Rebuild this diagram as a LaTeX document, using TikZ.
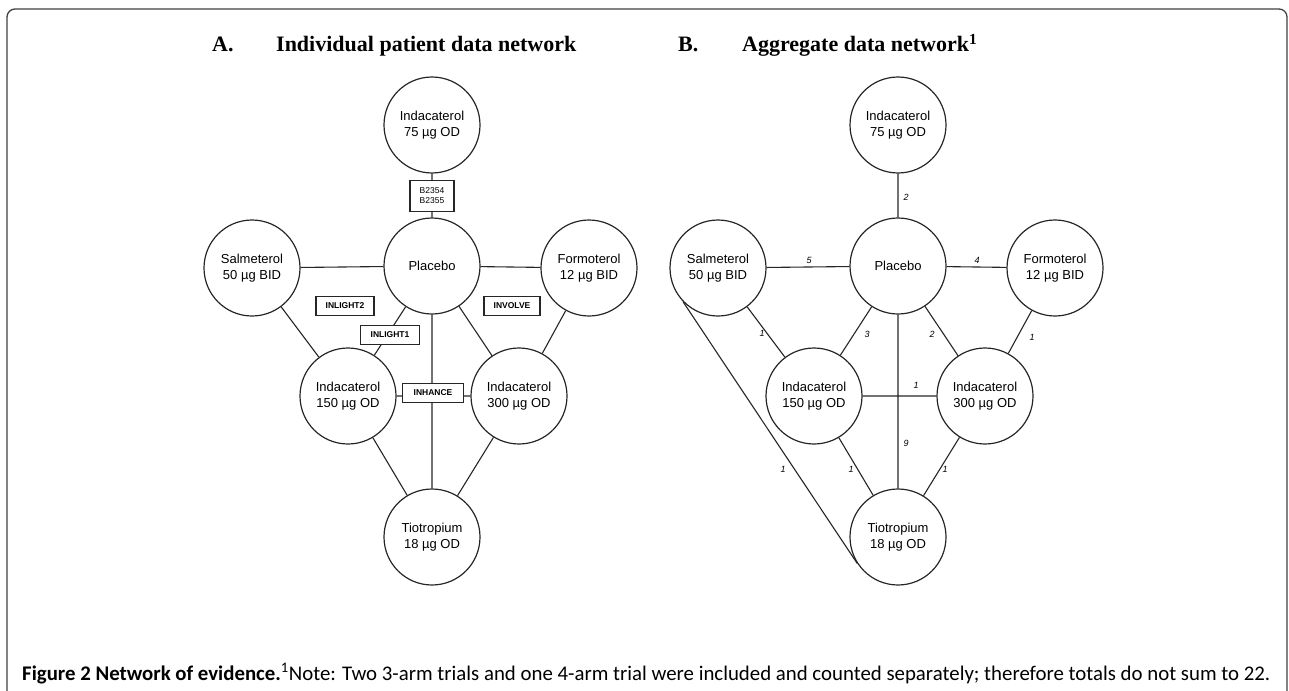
\documentclass[tikz,border=0pt]{standalone}
\usepackage{fontspec}
\setmainfont{Liberation Serif}
\setsansfont{Liberation Sans}
\newfontfamily\capfont{Carlito}
\usetikzlibrary{positioning}

\begin{document}
\begin{tikzpicture}[
  x=1pt,y=-1pt,
  drug/.style={circle,draw=black!85,line width=1.2pt,minimum size=96pt,inner sep=0pt,
    align=center,font=\sffamily\fontsize{13}{15.5}\selectfont},
  trial/.style={draw=black!85,line width=1.1pt,fill=white,inner sep=0pt,minimum height=19pt,
    font=\sffamily\bfseries\fontsize{8.5}{10}\selectfont},
  cnt/.style={font=\sffamily\itshape\fontsize{9}{9}\selectfont,inner sep=1pt},
  link/.style={draw=black!85,line width=1.1pt},
  ttl/.style={anchor=base west,inner sep=0pt,font=\bfseries\fontsize{22}{24}\selectfont}
  ]
  \useasboundingbox (0,0) rectangle (1289,690);
  \draw[black!75,line width=1.3pt,rounded corners=8pt]
  (7,692) -- (7,9) -- (1287,9) -- (1287,692);

  % titles
  \node[ttl] (ta1) at (212,52) {A.};
  \node[ttl] (ta2) at (276,52) {Individual patient data network};
  \node[ttl] (tb1) at (678,52) {B.};
  \node[ttl] (tb2) at (742,52) {Aggregate data network\textsuperscript{1}};

  % A: individual patient data
  \node[drug] (a01) at (432,125) {Indacaterol\\75 µg OD};
  \node[drug] (a02) at (252,268) {Salmeterol\\50 µg BID};
  \node[drug] (a03) at (432,266) {Placebo};
  \node[drug] (a04) at (589,268) {Formoterol\\12 µg BID};
  \node[drug] (a05) at (348,396) {Indacaterol\\150 µg OD};
  \node[drug] (a06) at (519,396) {Indacaterol\\300 µg OD};
  \node[drug] (a07) at (432,537) {Tiotropium\\18 µg OD};

  \path[link]
  (a01) -- (a03)
  (a02) -- (a03)
  (a03) -- (a04)
  (a03) -- (a05)
  (a03) -- (a06)
  (a03) -- (a07)
  (a02) -- (a05)
  (a04) -- (a06)
  (a05) -- (a06)
  (a05) -- (a07)
  (a06) -- (a07);

  \node[trial,font=\sffamily\fontsize{8.5}{10}\selectfont,align=center,
    minimum width=44pt,minimum height=31pt] (t01) at (432,196) {B2354\\B2355};
  \node[trial,minimum width=58pt] (t02) at (345,306) {INLIGHT2};
  \node[trial,minimum width=56pt] (t03) at (512,306) {INVOLVE};
  \node[trial,minimum width=59pt] (t04) at (390,335) {INLIGHT1};
  \node[trial,minimum width=61pt] (t05) at (433,393) {INHANCE};

  % B: aggregate data
  \node[drug] (b01) at (898,125) {Indacaterol\\75 µg OD};
  \node[drug] (b02) at (718,268) {Salmeterol\\50 µg BID};
  \node[drug] (b03) at (898,266) {Placebo};
  \node[drug] (b04) at (1055,268) {Formoterol\\12 µg BID};
  \node[drug] (b05) at (814,396) {Indacaterol\\150 µg OD};
  \node[drug] (b06) at (985,396) {Indacaterol\\300 µg OD};
  \node[drug] (b07) at (898,537) {Tiotropium\\18 µg OD};

  \path[link]
  (b01) -- (b03)
  (b02) -- (b03)
  (b03) -- (b04)
  (b03) -- (b05)
  (b03) -- (b06)
  (b03) -- (b07)
  (b02) -- (b05)
  (b04) -- (b06)
  (b05) -- (b06)
  (b05) -- (b07)
  (b06) -- (b07)
  (b02.224) -- (b07.213);

  \node[cnt] (c01) at (906,197) {2};
  \node[cnt] (c02) at (809,260) {5};
  \node[cnt] (c03) at (977,260) {4};
  \node[cnt] (c04) at (867,334) {3};
  \node[cnt] (c05) at (932,334) {2};
  \node[cnt] (c06) at (1032,337) {1};
  \node[cnt] (c07) at (762,333) {1};
  \node[cnt] (c08) at (916,385) {1};
  \node[cnt] (c09) at (906,443) {9};
  \node[cnt] (c10) at (783,469) {1};
  \node[cnt] (c11) at (851,469) {1};
  \node[cnt] (c12) at (945,469) {1};

  % caption
  \node[anchor=base west,inner sep=0pt] (cap) at (22,680)
  {\resizebox{1248pt}{!}{\capfont\fontsize{21}{24}\selectfont
  \textbf{Figure 2 Network of evidence.}\textsuperscript{1}Note: Two 3-arm trials and one 4-arm trial were included and counted separately; therefore totals do not sum to 22.}};
\end{tikzpicture}
\end{document}
